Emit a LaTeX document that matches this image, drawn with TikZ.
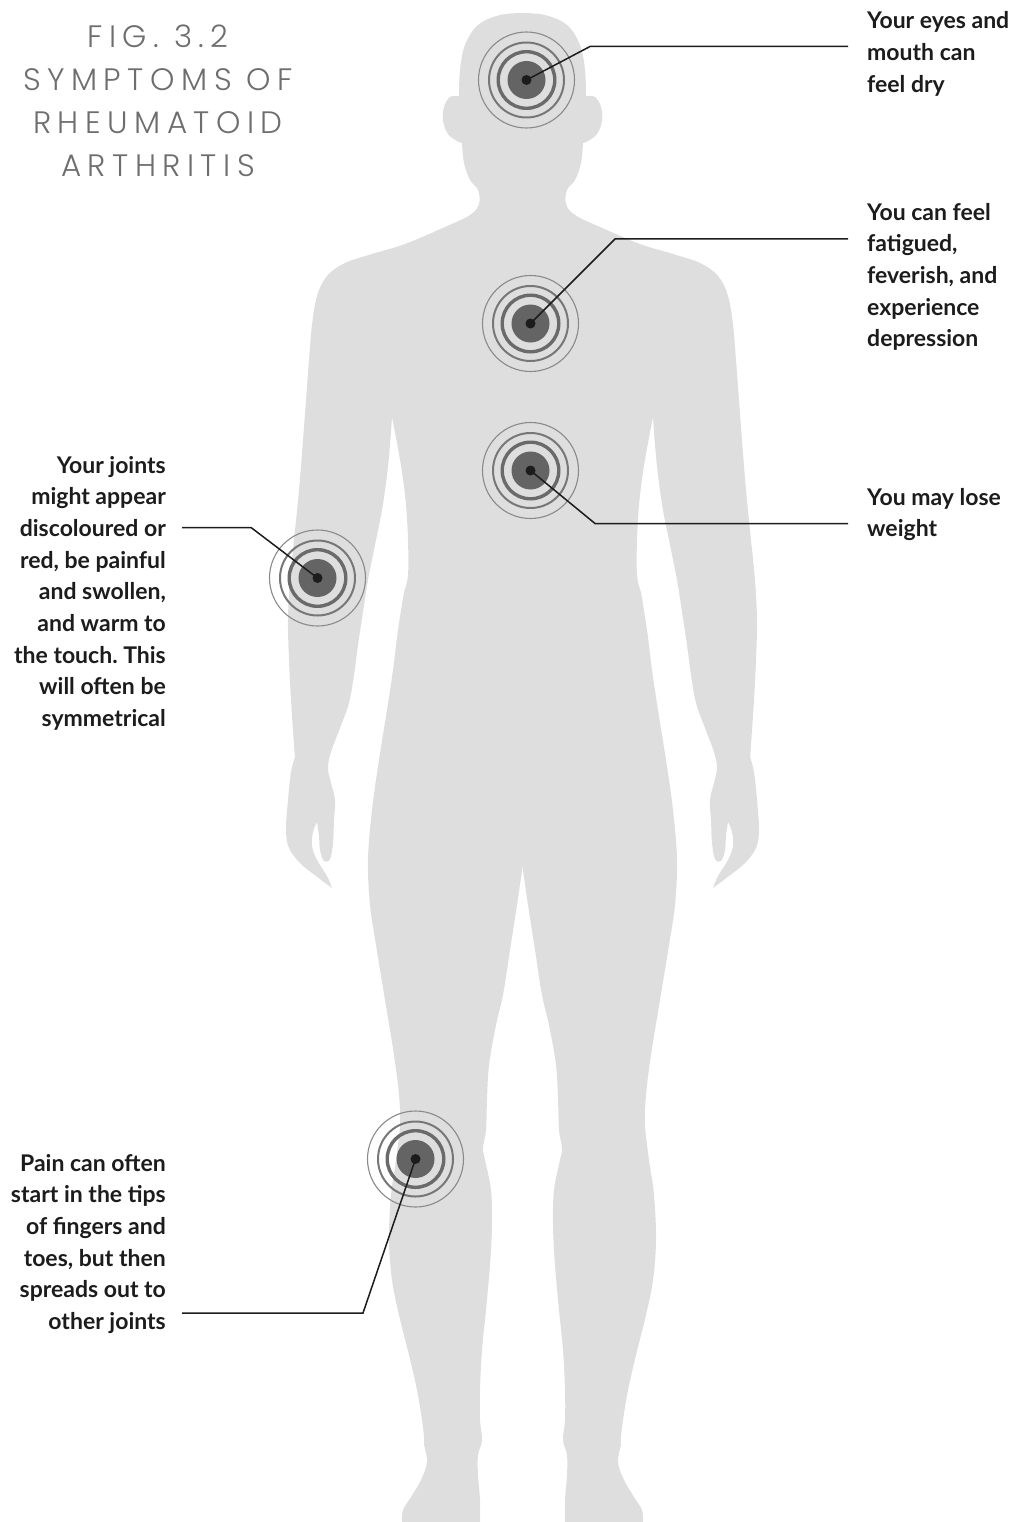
\documentclass[tikz,border=0pt]{standalone}
\usepackage{fontspec}
\newfontfamily\labelfont{Lato}
\newfontfamily\titlefont{Poppins}[UprightFont=* Light, LetterSpace=21]
\definecolor{skin}{HTML}{DEDEDE}
\definecolor{disk}{HTML}{646464}
\definecolor{ringA}{HTML}{6A6A6A}
\definecolor{ringB}{HTML}{777777}
\definecolor{ringC}{HTML}{8A8A8A}
\definecolor{ink}{HTML}{1C1C1C}
\definecolor{titlegray}{HTML}{6E6E6E}
\frenchspacing

\begin{document}
\begin{tikzpicture}[x=1pt, y=-1pt,
  target/.style={circle, fill=disk, minimum size=38pt, inner sep=0pt},
  ringthick/.style={draw=ringA, line width=3.4pt},
  ringmid/.style={draw=ringB, line width=2pt},
  ringthin/.style={draw=ringC, line width=1.1pt},
  hub/.style={fill=ink},
  leader/.style={draw=ink, line width=1.5pt, line join=miter},
  % multi-line labels are placed by the baseline of their last line
  rlabel/.style={anchor=base west, inner sep=0pt, align=left, text=ink,
    font=\labelfont\bfseries\fontsize{23}{31.7}\selectfont},
  llabel/.style={anchor=base east, inner sep=0pt, align=right, text=ink,
    font=\labelfont\bfseries\fontsize{23}{31.7}\selectfont},
  heading/.style={anchor=base, inner sep=0pt, align=center, text=titlegray,
    font=\titlefont\fontsize{31}{43}\selectfont}]
\useasboundingbox (0,0) rectangle (1016,1522);

% silhouette: left half, mirrored about the body axis
\foreach \s in {1,-1}{
\begin{scope}[shift={(522.5,0)}, xscale=\s, shift={(-522.5,0)}]
\fill[skin]
  plot[smooth, tension=.6] coordinates {(523.5,13) (500,15) (478,25) (465,45) (460,70) (459,96)}
  -- plot[smooth, tension=.6] coordinates {(459,96) (450,97) (444,107) (443,121) (448,134) (457,141) (462,143)}
  -- plot[smooth, tension=.6] coordinates {(462,143) (464,163) (470,180) (478,190) (479,204) (470,215)
       (445,227) (405,244) (372,254) (345,263) (327,276) (317,296) (312,325) (309,360) (306,400)
       (303,440) (299,490) (294,540) (290,580) (288,620) (289,660) (291,700) (294,745) (295,757)}
  -- plot[smooth, tension=.6] coordinates {(295,757) (291,772) (288,800) (286,830) (289,848) (300,863) (316,876) (332,888)}
  -- plot[smooth, tension=.6] coordinates {(332,888) (327,876) (317,860) (312,846) (313,832) (317,822)}
  -- plot[smooth, tension=.6] coordinates {(317,822) (319,836) (320,850) (324,861) (330,859) (333,843)
       (334,820) (335,800) (331,783) (328,768) (331,752) (340,728) (349,703) (354,675) (358,645)
       (363,612) (368,580) (375,545) (382,510) (387,475) (390,445) (392,417)}
  -- plot[smooth, tension=.6] coordinates {(392,417) (397,443) (402,472) (406,505) (408,540) (408,575) (404,592)}
  -- plot[smooth, tension=.6] coordinates {(404,592) (398,630) (393,670) (387,710) (379,760) (372,810)
       (368,860) (370,905) (376,945) (385,1000) (394,1055) (399,1095) (400,1125) (396,1160) (391,1195)
       (389,1240) (392,1280) (399,1315) (409,1355) (417,1390) (422,1420) (424,1437) (424,1445)}
  -- plot[smooth, tension=.6] coordinates {(424,1445) (427,1462) (421,1480) (411,1497) (403,1510) (402,1522)}
  -- (480,1522)
  -- plot[smooth, tension=.6] coordinates {(480,1522) (480,1500) (478,1475) (478,1455) (482,1440)
       (480,1420) (480,1390) (482,1350) (486,1310) (490,1265) (492,1225) (491,1190) (485,1160)
       (483,1148) (486,1130) (487,1100) (489,1065) (496,1025) (503,995) (510,950) (517,905) (522.5,867)}
  -- (524,860) -- (524,20) -- cycle;
\end{scope}
}

% heading
\node[heading] (title) at (158,177) {FIG. 3.2\\SYMPTOMS OF\\RHEUMATOID\\ARTHRITIS};

% symptom sites
\node[target] (head)  at (526.5,80) {};
\node[target] (chest) at (530.5,323.5) {};
\node[target] (belly) at (530.5,470.5) {};
\node[target] (elbow) at (317.5,578) {};
\node[target] (knee)  at (415.5,1159) {};

\foreach \t in {head,chest,belly,elbow,knee}{
  \draw[ringthick] (\t.center) circle[radius=28.3];
  \draw[ringmid]   (\t.center) circle[radius=37.5];
  \draw[ringthin]  (\t.center) circle[radius=48];
}

% labels
\node[rlabel] (dry)     at (867,92.4)  {Your eyes and\\mouth can\\feel dry};
\node[rlabel] (fatigue) at (867,346.8) {You can feel\\fatigued,\\feverish, and\\experience\\depression};
\node[rlabel] (weight)  at (867,536.7) {You may lose\\weight};
\node[llabel] (joints)  at (166,726.6) {Your joints\\might appear\\discoloured or\\red, be painful\\and swollen,\\and warm to\\the touch. This\\will often be\\symmetrical};
\node[llabel] (pain)    at (166,1329.5) {Pain can often\\start in the tips\\of fingers and\\toes, but then\\spreads out to\\other joints};

% leader bends and ends
\coordinate (headB)  at (590,46.5);   \coordinate (headE)  at (848,46.5);
\coordinate (chestB) at (615,239);    \coordinate (chestE) at (848,239);
\coordinate (bellyB) at (595,523.5);  \coordinate (bellyE) at (848,523.5);
\coordinate (elbowB) at (251,527.5);  \coordinate (elbowE) at (182,527.5);
\coordinate (kneeB)  at (363,1313);   \coordinate (kneeE)  at (182,1313);

\foreach \t in {head,chest,belly,elbow,knee}{
  \draw[leader] (\t.center) -- (\t B) -- (\t E);
  \fill[hub] (\t.center) circle[radius=5];
}
\end{tikzpicture}
\end{document}
